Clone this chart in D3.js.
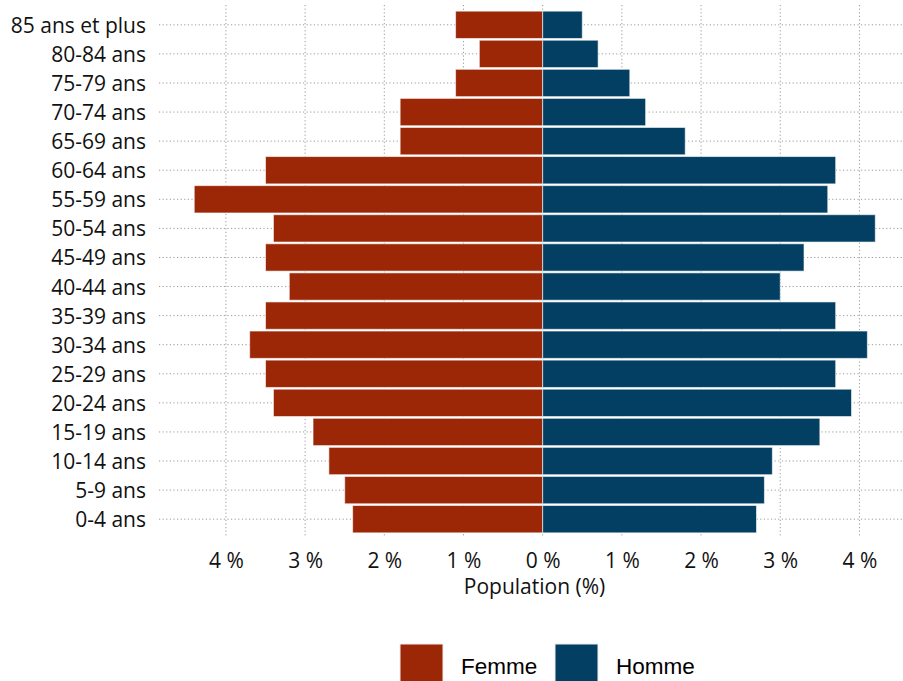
<!DOCTYPE html>
<html>
<head>
<meta charset="utf-8">
<title>Pyramide des âges</title>
<script src="https://d3js.org/d3.v7.min.js"></script>
<style>
  body { margin: 0; background: #fff; }
  .grid line { stroke: #9a9a9a; stroke-dasharray: 1.2,2.4; stroke-width: 1; }
  .lab { font-family: "Open Sans", sans-serif; fill: #111; }
</style>
</head>
<body>
<script>
// classes d'âge (du haut vers le bas)
var ages = ["85 ans et plus","80-84 ans","75-79 ans","70-74 ans","65-69 ans","60-64 ans",
  "55-59 ans","50-54 ans","45-49 ans","40-44 ans","35-39 ans","30-34 ans","25-29 ans",
  "20-24 ans","15-19 ans","10-14 ans","5-9 ans","0-4 ans"];
var femme = [1.1,0.8,1.1,1.8,1.8,3.5,4.4,3.4,3.5,3.2,3.5,3.7,3.5,3.4,2.9,2.7,2.5,2.4];
var homme = [0.5,0.7,1.1,1.3,1.8,3.7,3.6,4.2,3.3,3.0,3.7,4.1,3.7,3.9,3.5,2.9,2.8,2.7];
var ticks = [-4,-3,-2,-1,0,1,2,3,4];
var colF = "#9c2707", colH = "#023f62";

var w = 903, h = 681;
var svg = d3.select("body").append("svg").attr("width", w).attr("height", h);

var x = d3.scaleLinear().domain([-4.845, 4.55]).range([159, 903]);
var y = d3.scaleBand().domain(ages).range([9.4, 534.6]).padding(0.06);

// grille
var grid = svg.append("g").attr("class", "grid");
grid.selectAll(".v").data(ticks).enter().append("line")
  .attr("x1", function(d){ return x(d); }).attr("x2", function(d){ return x(d); })
  .attr("y1", 5).attr("y2", 537);
grid.selectAll(".hz").data(ages).enter().append("line")
  .attr("x1", 159).attr("x2", 903)
  .attr("y1", function(d){ return y(d) + y.bandwidth()/2; })
  .attr("y2", function(d){ return y(d) + y.bandwidth()/2; });

// barres
svg.selectAll(".f").data(femme).enter().append("rect")
  .attr("x", function(d){ return x(-d); })
  .attr("width", function(d){ return x(0) - x(-d); })
  .attr("y", function(d,i){ return y(ages[i]); })
  .attr("height", y.bandwidth())
  .attr("fill", colF).attr("stroke", "rgba(255,255,255,0.6)").attr("stroke-width", 1);
svg.selectAll(".m").data(homme).enter().append("rect")
  .attr("x", x(0))
  .attr("width", function(d){ return x(d) - x(0); })
  .attr("y", function(d,i){ return y(ages[i]); })
  .attr("height", y.bandwidth())
  .attr("fill", colH).attr("stroke", "rgba(255,255,255,0.6)").attr("stroke-width", 1);

// axe y
svg.append("g").selectAll("text").data(ages).enter().append("text")
  .attr("class", "lab")
  .attr("x", 146)
  .attr("y", function(d){ return y(d) + y.bandwidth()/2; })
  .attr("dy", "0.38em")
  .attr("text-anchor", "end")
  .attr("font-size", "21px")
  .text(function(d){ return d; });

// axe x
var xAxis = d3.axisBottom(x).tickValues(ticks).tickSize(0).tickPadding(0)
  .tickFormat(function(d){ return Math.abs(d) + " %"; });
var gx = svg.append("g").attr("transform", "translate(0,568)").call(xAxis);
gx.select(".domain").remove();
gx.selectAll("text").attr("class", "lab").attr("font-size", "21px").attr("dy", "0");

svg.append("text").attr("class", "lab")
  .attr("x", 534.5).attr("y", 594)
  .attr("text-anchor", "middle").attr("font-size", "21px")
  .text("Population (%)");

// légende
var leg = [["Femme", colF, 400], ["Homme", colH, 555]];
var lg = svg.append("g");
leg.forEach(function(l){
  lg.append("rect").attr("x", l[2]).attr("y", 644).attr("width", 43).attr("height", 43)
    .attr("fill", l[1]).attr("stroke", "#eee").attr("stroke-width", 1);
  lg.append("text").attr("x", l[2] + 61).attr("y", 674)
    .attr("font-family", "Liberation Sans, Arial, sans-serif").attr("font-size", "22.5px")
    .attr("fill", "#000").text(l[0]);
});
</script>
</body>
</html>
